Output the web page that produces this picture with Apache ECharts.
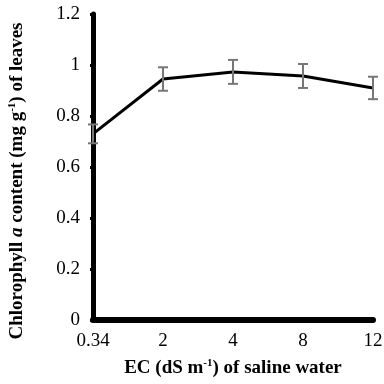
<!DOCTYPE html>
<html>
<head>
<meta charset="utf-8">
<script src="https://cdn.jsdelivr.net/npm/echarts@6/dist/echarts.min.js"></script>
<style>
html, body { margin: 0; padding: 0; background: #fff; }
#chart { width: 384px; height: 384px; }
</style>
</head>
<body>
<div id="chart"></div>
<script>
// salinity levels (dS/m) and chlorophyll a values
const ecLevels = ['0.34', '2', '4', '8', '12'];
const chlA = [0.73, 0.945, 0.973, 0.957, 0.91];
const chlErr = [0.037, 0.046, 0.047, 0.047, 0.044];

const chart = echarts.init(document.getElementById('chart'));
const serif = '"Liberation Serif", "Times New Roman", serif';

const errData = ecLevels.map((c, i) => [i, chlA[i] - chlErr[i], chlA[i] + chlErr[i]]);

chart.setOption({
    animation: false,
    grid: { left: 93, right: 11, top: 14, bottom: 64, outerBoundsMode: 'none', containLabel: false },
    xAxis: {
        type: 'category',
        data: ecLevels,
        boundaryGap: false,
        name: '{b|EC (dS m}{s|-1}{b|) of saline water}',
        nameLocation: 'middle',
        nameGap: 38,
        nameTextStyle: {
            rich: {
                b: { fontFamily: serif, fontWeight: 'bold', fontSize: 19, color: '#000' },
                s: { fontFamily: serif, fontWeight: 'bold', fontSize: 11, color: '#000', verticalAlign: 'top', padding: [0, 0, 9, 0] }
            }
        },
        axisLine: { lineStyle: { color: '#000', width: 6 } },
        axisTick: { show: false },
        axisLabel: { fontFamily: serif, fontSize: 19, color: '#000', margin: 12 }
    },
    yAxis: {
        type: 'value',
        min: 0,
        max: 1.2,
        interval: 0.2,
        name: '{b|Chlorophyll }{i|a}{b| content (mg g}{s|-1}{b|) of leaves}',
        nameLocation: 'middle',
        nameGap: 66,
        nameTextStyle: {
            padding: [0, 28, 0, 0],
            rich: {
                b: { fontFamily: serif, fontWeight: 'bold', fontSize: 19, color: '#000' },
                i: { fontFamily: serif, fontWeight: 'bold', fontStyle: 'italic', fontSize: 19, color: '#000' },
                s: { fontFamily: serif, fontWeight: 'bold', fontSize: 11, color: '#000', verticalAlign: 'top', padding: [0, 0, 9, 0] }
            }
        },
        axisLine: { show: true, lineStyle: { color: '#000', width: 5 } },
        axisTick: { show: true, length: 3, lineStyle: { color: '#000', width: 3 } },
        axisLabel: { fontFamily: serif, fontSize: 19, color: '#000', margin: 13 },
        splitLine: { show: false }
    },
    series: [
        {
            type: 'line',
            data: chlA,
            symbol: 'none',
            lineStyle: { color: '#000', width: 3 },
            z: 3
        },
        {
            type: 'custom',
            data: errData,
            z: 4,
            renderItem: function (params, api) {
                const lo = api.coord([api.value(0), api.value(1)]);
                const hi = api.coord([api.value(0), api.value(2)]);
                const hw = 5;
                const st = { stroke: '#777', lineWidth: 2 };
                return {
                    type: 'group',
                    children: [
                        { type: 'line', shape: { x1: lo[0], y1: lo[1], x2: hi[0], y2: hi[1] }, style: st },
                        { type: 'line', shape: { x1: lo[0] - hw, y1: lo[1], x2: lo[0] + hw, y2: lo[1] }, style: st },
                        { type: 'line', shape: { x1: hi[0] - hw, y1: hi[1], x2: hi[0] + hw, y2: hi[1] }, style: st }
                    ]
                };
            }
        }
    ]
});
</script>
</body>
</html>
